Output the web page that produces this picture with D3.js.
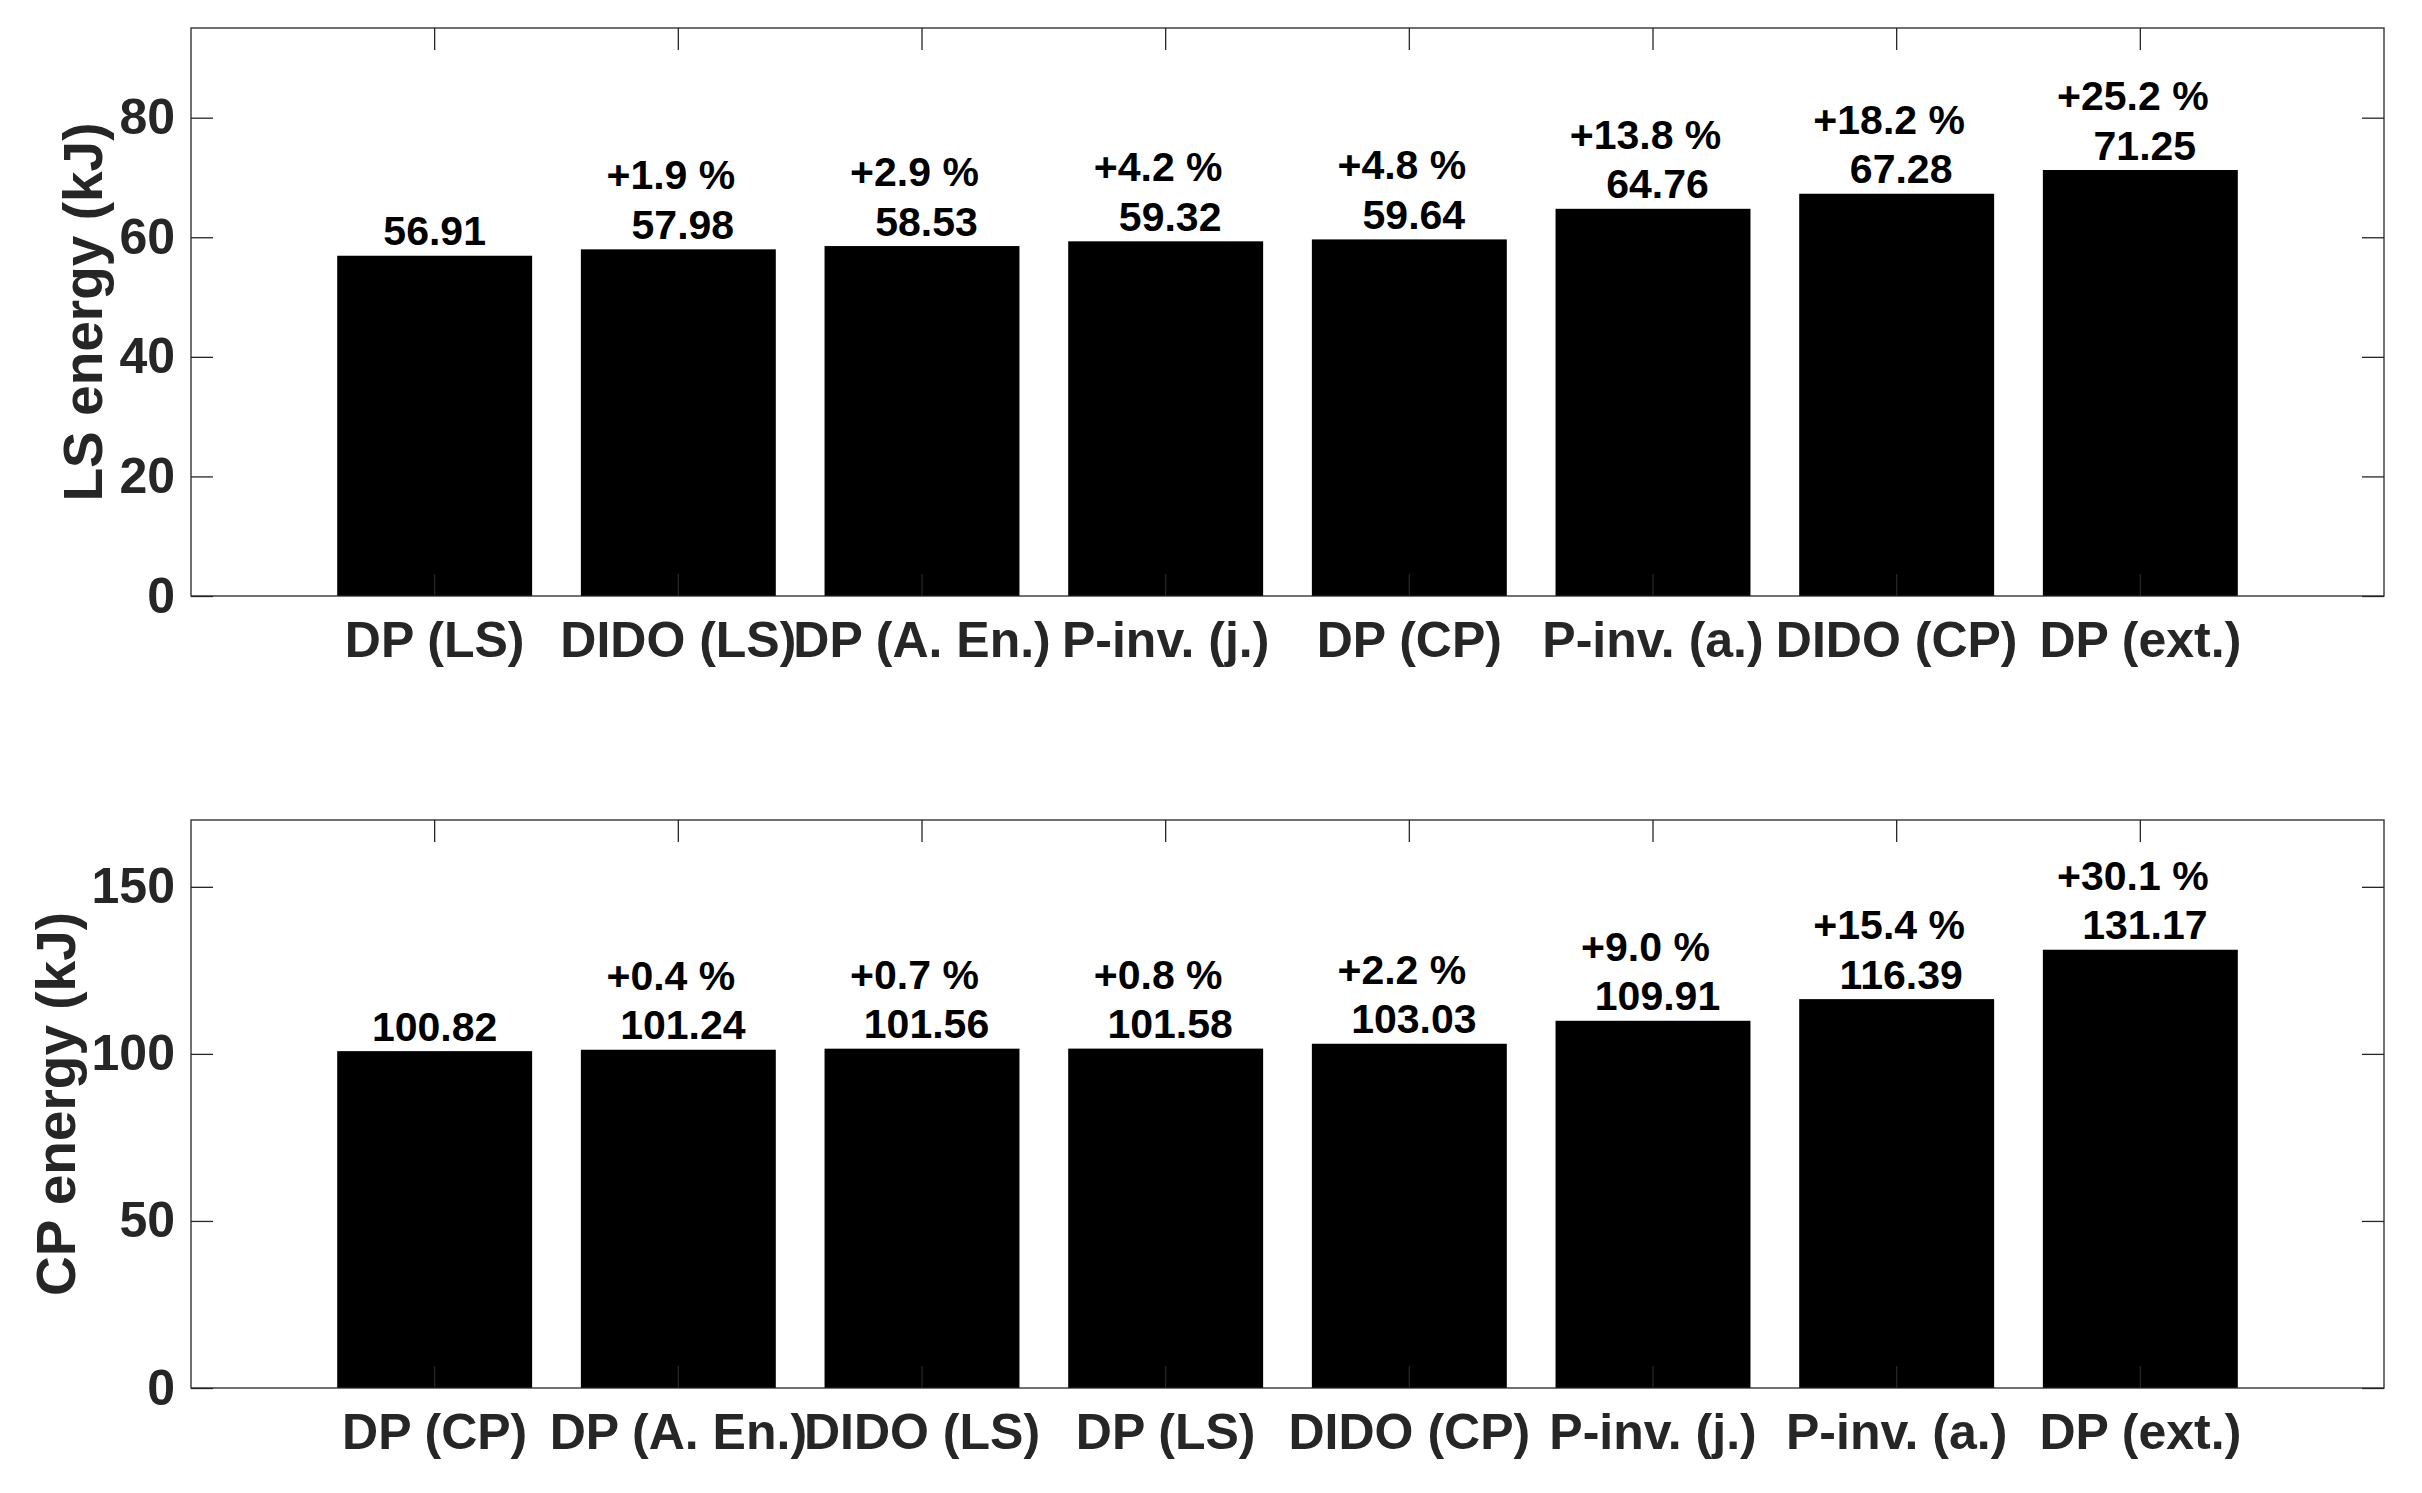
<!DOCTYPE html>
<html>
<head>
<meta charset="utf-8">
<script src="https://cdn.jsdelivr.net/npm/d3@7"></script>
<style>
  html, body { margin: 0; padding: 0; background: #fff; }
  svg { display: block; }
  text { font-family: "Liberation Sans", Arial, Helvetica, sans-serif; font-weight: bold; }
</style>
</head>
<body>
<svg id="chart" width="2422" height="1493"></svg>
<script>
// ---------- data ----------
const lsCategories = ["DP (LS)", "DIDO (LS)", "DP (A. En.)", "P-inv. (j.)", "DP (CP)", "P-inv. (a.)", "DIDO (CP)", "DP (ext.)"];
const lsValues = [56.91, 57.98, 58.53, 59.32, 59.64, 64.76, 67.28, 71.25];
const lsPercent = ["", "+1.9 %", "+2.9 %", "+4.2 %", "+4.8 %", "+13.8 %", "+18.2 %", "+25.2 %"];
const lsTicks = [0, 20, 40, 60, 80];
const lsMax = 95;

const cpCategories = ["DP (CP)", "DP (A. En.)", "DIDO (LS)", "DP (LS)", "DIDO (CP)", "P-inv. (j.)", "P-inv. (a.)", "DP (ext.)"];
const cpValues = [100.82, 101.24, 101.56, 101.58, 103.03, 109.91, 116.39, 131.17];
const cpPercent = ["", "+0.4 %", "+0.7 %", "+0.8 %", "+2.2 %", "+9.0 %", "+15.4 %", "+30.1 %"];
const cpTicks = [0, 50, 100, 150];
const cpMax = 170;

// ---------- layout ----------
const svg = d3.select("#chart");
const left = 191, right = 2384;
const axisColor = "#262626";
const tickLen = 22;

function panel(cfg) {
  const { cats, vals, pcts, ticks, ymax, top, bottom, ylabel } = cfg;
  const g = svg.append("g");

  const x = d3.scaleBand().domain(cats).range([left, right])
    .paddingInner(0.2).paddingOuter(0.6);
  const y = d3.scaleLinear().domain([0, ymax]).range([bottom, top]);

  // bars
  g.selectAll("rect.bar").data(vals).join("rect")
    .attr("class", "bar")
    .attr("x", (d, i) => x(cats[i]))
    .attr("width", x.bandwidth())
    .attr("y", d => y(d))
    .attr("height", d => y(0) - y(d))
    .attr("fill", "#000");

  // value labels
  const lab = g.selectAll("g.lab").data(vals).join("g").attr("class", "lab")
    .attr("transform", (d, i) => `translate(${x(cats[i]) + x.bandwidth() / 2},${y(d) - 10.5})`);
  lab.append("text")
    .attr("text-anchor", "middle")
    .attr("dx", (d, i) => pcts[i] ? 4.5 : 0)
    .attr("font-size", 41)
    .attr("fill", "#000")
    .text(d => d.toFixed(2));
  lab.append("text")
    .attr("text-anchor", "middle")
    .attr("dx", -7.5)
    .attr("y", -49.5)
    .attr("font-size", 41)
    .attr("fill", "#000")
    .text((d, i) => pcts[i]);

  // axes
  const ax = g.append("g");
  const yl = ax.append("g").attr("transform", `translate(${left},0)`)
    .call(d3.axisLeft(y).tickValues(ticks).tickSize(-tickLen).tickSizeOuter(0).tickPadding(16));
  ax.append("g").attr("transform", `translate(${right},0)`)
    .call(d3.axisRight(y).tickValues(ticks).tickSize(-tickLen).tickSizeOuter(0).tickFormat(""));
  ax.append("g").attr("transform", `translate(0,${bottom})`)
    .call(d3.axisBottom(x).tickSize(-tickLen).tickSizeOuter(0).tickPadding(25));
  ax.append("g").attr("transform", `translate(0,${top})`)
    .call(d3.axisTop(x).tickSize(-tickLen).tickSizeOuter(0).tickFormat(""));
  ax.selectAll(".domain").remove();
  ax.selectAll(".tick line").attr("stroke", axisColor).attr("stroke-width", 1.3);
  ax.selectAll(".tick text").attr("fill", axisColor)
    .attr("font-size", 50)
    .attr("font-family", '"Liberation Sans", Arial, Helvetica, sans-serif')
    .attr("font-weight", "bold");

  // box
  ax.append("rect")
    .attr("x", left).attr("y", top)
    .attr("width", right - left).attr("height", bottom - top)
    .attr("fill", "none").attr("stroke", axisColor).attr("stroke-width", 1.3);

  // y label
  let minX = Infinity;
  yl.selectAll(".tick text").each(function () {
    const b = this.getBBox();
    const m = this.parentNode.transform.baseVal.consolidate();
    const tx = m ? m.matrix.e : 0;
    minX = Math.min(minX, left + tx + b.x);
  });
  const lx = minX - 17;
  g.append("text")
    .attr("transform", `translate(${lx},${(top + bottom) / 2}) rotate(-90)`)
    .attr("text-anchor", "middle")
    .attr("font-size", 55)
    .attr("fill", axisColor)
    .text(ylabel);
}

panel({ cats: lsCategories, vals: lsValues, pcts: lsPercent, ticks: lsTicks, ymax: lsMax,
        top: 28, bottom: 596, ylabel: "LS energy (kJ)" });
panel({ cats: cpCategories, vals: cpValues, pcts: cpPercent, ticks: cpTicks, ymax: cpMax,
        top: 820, bottom: 1388, ylabel: "CP energy (kJ)" });
</script>
</body>
</html>
